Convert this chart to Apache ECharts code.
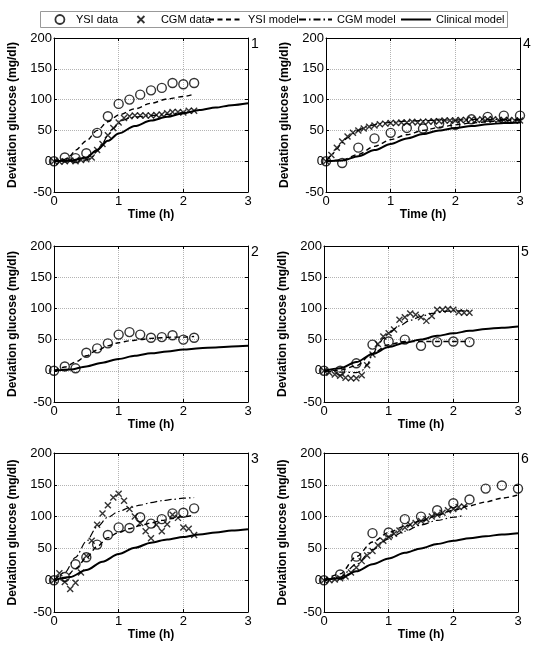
<!DOCTYPE html>
<html><head><meta charset="utf-8">
<script src="https://cdn.jsdelivr.net/npm/echarts/dist/echarts.min.js"></script>
<style>html,body{margin:0;padding:0;background:#fff}#c{width:540px;height:653px}</style>
</head><body><div id="c"></div>
<script>
// ---- data (time in h, deviation glucose in mg/dl) ----
const xTicks = [0, 1, 2, 3];
const yTicks = [-50, 0, 50, 100, 150, 200];
const panelLabels = ['1', '2', '3', '4', '5', '6'];
const seriesNames = ['YSI data', 'CGM data', 'YSI model', 'CGM model', 'Clinical model'];

const ysiData1 = [[0,0],[0.167,6],[0.333,5],[0.5,13],[0.667,46],[0.833,73],[1,93],[1.167,100],[1.333,108],[1.5,115],[1.667,119],[1.833,127],[2,125],[2.167,127]];
const cgmData1 = [[0,0],[0.083,-1],[0.167,0],[0.25,1],[0.333,0],[0.417,2],[0.5,3],[0.583,6],[0.667,18],[0.75,28],[0.833,42],[0.917,54],[1,63],[1.083,70],[1.167,73],[1.25,74],[1.333,74],[1.417,74],[1.5,74],[1.583,75],[1.667,76],[1.75,78],[1.833,80],[1.917,80],[2,79],[2.083,82],[2.167,82]];
const ysiModel1 = [[0,0],[0.167,3],[0.25,9],[0.333,18],[0.5,33],[0.667,50],[0.833,64],[1,75],[1.25,85],[1.5,94],[1.75,101],[2,105],[2.167,109]];
const cgmModel1 = [[0,0],[0.25,0],[0.5,2],[0.583,6],[0.667,16],[0.75,29],[0.833,42],[0.917,53],[1,61],[1.083,67],[1.167,70],[1.25,72],[1.5,74],[1.75,76],[2,79],[2.167,81]];
const clinModel1 = [[0,0],[0.25,1],[0.5,6],[0.667,18],[0.833,33],[1,45],[1.25,57],[1.5,66],[1.75,72],[2,78],[2.25,83],[2.5,87],[2.75,91],[3,94]];

const ysiData2 = [[0,0],[0.167,7],[0.333,4],[0.5,29],[0.667,36],[0.833,44],[1,58],[1.167,62],[1.333,58],[1.5,53],[1.667,54],[1.833,57],[2,50],[2.167,53]];
const ysiModel2 = [[0,0],[0.167,6],[0.333,14],[0.5,24],[0.667,33],[0.833,40],[1,45],[1.167,48],[1.333,50],[1.5,52],[1.667,53],[1.833,54],[2,54],[2.167,55]];
const clinModel2 = [[0,0],[0.25,2],[0.5,7],[0.75,13],[1,19],[1.25,24],[1.5,28],[1.75,31],[2,34],[2.25,36],[2.5,37.5],[2.75,39],[3,40]];

const ysiData3 = [[0,0],[0.167,5],[0.333,25],[0.5,36],[0.667,56],[0.833,71],[1,83],[1.167,82],[1.333,99],[1.5,89],[1.667,96],[1.833,105],[2,106],[2.167,113]];
const cgmData3 = [[0,0],[0.083,11],[0.167,-3],[0.25,-14],[0.333,-4],[0.417,12],[0.5,38],[0.583,62],[0.667,87],[0.75,105],[0.833,118],[0.917,130],[1,136],[1.083,125],[1.167,112],[1.25,100],[1.333,90],[1.417,77],[1.5,66],[1.583,87],[1.667,77],[1.75,88],[1.833,103],[1.917,98],[2,83],[2.083,81],[2.167,71]];
const ysiModel3 = [[0,0],[0.167,3],[0.333,18],[0.5,35],[0.667,53],[0.833,67],[1,75],[1.167,81],[1.333,86],[1.5,90],[1.667,94],[1.833,97],[2,100],[2.167,102]];
const cgmModel3 = [[0,0],[0.167,12],[0.333,36],[0.5,61],[0.667,84],[0.833,99],[1,108],[1.167,114],[1.333,118],[1.5,122],[1.667,125],[1.833,127],[2,129],[2.167,130]];
const clinModel3 = [[0,0],[0.25,5],[0.5,16],[0.75,29],[1,41],[1.25,51],[1.5,59],[1.75,64],[2,68],[2.25,72],[2.5,75],[2.75,78],[3,80]];

const ysiData4 = [[0,0],[0.25,-3],[0.5,22],[0.75,37],[1,46],[1.25,54],[1.5,53],[1.75,61],[2,59],[2.25,68],[2.5,72],[2.75,74],[3,74]];
const cgmData4 = [[0,0],[0.083,10],[0.167,22],[0.25,32],[0.333,40],[0.417,46],[0.5,50],[0.583,53],[0.667,56],[0.75,58],[0.833,60],[0.917,61],[1,62],[1.083,62],[1.167,63],[1.25,63],[1.333,64],[1.417,63],[1.5,64],[1.583,64],[1.667,65],[1.75,65],[1.833,66],[1.917,66],[2,66],[2.083,67],[2.167,67],[2.25,68],[2.333,67],[2.417,68],[2.5,68],[2.583,68],[2.667,67],[2.75,67],[2.833,67],[2.917,66],[3,66]];
const ysiModel4 = [[0,0],[0.25,2],[0.5,11],[0.75,24],[1,35],[1.25,43],[1.5,50],[1.75,55],[2,59],[2.25,62],[2.5,64],[2.75,66],[3,67]];
const cgmModel4 = [[0,0],[0.083,9],[0.167,20],[0.25,30],[0.333,38],[0.417,45],[0.5,50],[0.583,54],[0.667,57],[0.75,59],[0.833,61],[1,63],[1.25,65],[1.5,66],[2,67],[2.5,68],[3,68]];
const clinModel4 = [[0,0],[0.25,1],[0.5,8],[0.75,18],[1,28],[1.25,37],[1.5,44],[1.75,50],[2,54],[2.25,57],[2.5,60],[2.75,62],[3,63]];

const ysiData5 = [[0,0],[0.25,0],[0.5,12],[0.75,42],[1,47],[1.25,50],[1.5,40],[1.75,46],[2,47],[2.25,46]];
const cgmData5 = [[0,0],[0.083,-3],[0.167,-6],[0.25,-8],[0.333,-11],[0.417,-12],[0.5,-12],[0.583,-7],[0.667,9],[0.75,26],[0.833,43],[0.917,55],[1,60],[1.083,66],[1.167,82],[1.25,86],[1.333,92],[1.417,90],[1.5,86],[1.583,80],[1.667,88],[1.75,98],[1.833,98],[1.917,99],[2,98],[2.083,94],[2.167,93],[2.25,93]];
const ysiModel5 = [[0,0],[0.25,1],[0.5,8],[0.75,28],[1,42],[1.25,47],[1.5,47],[1.75,47],[2,47],[2.25,47]];
const cgmModel5 = [[0,0],[0.25,-2],[0.5,-3],[0.583,0],[0.667,10],[0.75,25],[0.833,40],[0.917,52],[1,61],[1.167,72],[1.333,81],[1.5,87],[1.667,92],[1.833,95],[2,96],[2.25,96]];
const clinModel5 = [[0,0],[0.25,4],[0.5,14],[0.75,27],[1,38],[1.25,45],[1.5,50],[1.75,56],[2,60],[2.25,64],[2.5,67],[2.75,69],[3,71]];

const ysiData6 = [[0,0],[0.25,9],[0.5,37],[0.75,74],[1,75],[1.25,96],[1.5,100],[1.75,110],[2,121],[2.25,127],[2.5,144],[2.75,149],[3,144]];
const cgmData6 = [[0,0],[0.083,0],[0.167,1],[0.25,3],[0.333,6],[0.417,12],[0.5,20],[0.583,30],[0.667,39],[0.75,46],[0.833,55],[0.917,62],[1,68],[1.083,73],[1.167,78],[1.25,83],[1.333,87],[1.417,90],[1.5,93],[1.583,96],[1.667,100],[1.75,103],[1.833,106],[1.917,110],[2,112],[2.083,115],[2.167,116]];
const ysiModel6 = [[0,0],[0.25,10],[0.5,37],[0.75,60],[1,75],[1.25,85],[1.5,93],[1.75,102],[2,110],[2.25,117],[2.5,123],[2.75,129],[3,134]];
const cgmModel6 = [[0,0],[0.25,5],[0.5,25],[0.75,48],[1,65],[1.25,77],[1.5,87],[1.75,94],[2,99],[2.167,102]];
const clinModel6 = [[0,0],[0.25,3],[0.5,14],[0.75,25],[1,34],[1.25,43],[1.5,50],[1.75,57],[2,62],[2.25,66],[2.5,69],[2.75,72],[3,74]];

// ---- layout ----
const FONT = 'Arial, "Liberation Sans", Helvetica, sans-serif';
const panels = [
  {g:{left:54, top:38, width:194, height:154}, ysi:ysiData1, cgm:cgmData1, ysiM:ysiModel1, cgmM:cgmModel1, clin:clinModel1},
  {g:{left:54, top:246, width:194, height:156}, ysi:ysiData2, cgm:null, ysiM:ysiModel2, cgmM:null, clin:clinModel2},
  {g:{left:54, top:453, width:194, height:159}, ysi:ysiData3, cgm:cgmData3, ysiM:ysiModel3, cgmM:cgmModel3, clin:clinModel3},
  {g:{left:326, top:38, width:194, height:154}, ysi:ysiData4, cgm:cgmData4, ysiM:ysiModel4, cgmM:cgmModel4, clin:clinModel4},
  {g:{left:324, top:246, width:194, height:156}, ysi:ysiData5, cgm:cgmData5, ysiM:ysiModel5, cgmM:cgmModel5, clin:clinModel5},
  {g:{left:324, top:453, width:194, height:159}, ysi:ysiData6, cgm:cgmData6, ysiM:ysiModel6, cgmM:cgmModel6, clin:clinModel6}
];
const CROSS = 'path://M0,0L10,10M10,0L0,10';
const DASH = [5, 3.5];
const DASHDOT = [7, 3, 1.5, 3];

const grid = [], xAxis = [], yAxis = [], series = [], graphic = [];
const xMin = xTicks[0], xMax = xTicks[xTicks.length-1], xInt = xTicks[1]-xTicks[0];
const yMin = yTicks[0], yMax = yTicks[yTicks.length-1], yInt = yTicks[1]-yTicks[0];
const axLine = {show:true, onZero:false, lineStyle:{color:'#000', width:1}};
const tick = {show:true, inside:true, length:3, lineStyle:{color:'#000', width:1}};
const split = {show:true, lineStyle:{color:'#b4b4b4', type:'dotted', width:1}};

panels.forEach((p, i) => {
  grid.push(Object.assign({containLabel:false}, p.g));
  xAxis.push({gridIndex:i, type:'value', min:xMin, max:xMax, interval:xInt, position:'bottom',
    axisLine:axLine, axisTick:tick, splitLine:split,
    axisLabel:{color:'#000', fontSize:13, fontFamily:FONT, margin:3},
    name:'Time (h)', nameLocation:'middle', nameGap:15,
    nameTextStyle:{color:'#000', fontSize:12, fontWeight:'bold', fontFamily:FONT}});
  yAxis.push({gridIndex:i, type:'value', min:yMin, max:yMax, interval:yInt, position:'left',
    axisLine:axLine, axisTick:tick, splitLine:split,
    axisLabel:{color:'#000', fontSize:13, fontFamily:FONT, margin:2},
    name:'Deviation glucose (mg/dl)', nameLocation:'middle', nameGap:35,
    nameTextStyle:{color:'#000', fontSize:12, fontWeight:'bold', fontFamily:FONT}});
});
panels.forEach((p, i) => {
  xAxis.push({gridIndex:i, type:'value', min:xMin, max:xMax, interval:xInt, position:'top',
    axisLine:axLine, axisTick:tick, splitLine:{show:false}, axisLabel:{show:false}});
  yAxis.push({gridIndex:i, type:'value', min:yMin, max:yMax, interval:yInt, position:'right',
    axisLine:axLine, axisTick:tick, splitLine:{show:false}, axisLabel:{show:false}});
  const right = p.g.left + p.g.width;
  graphic.push({type:'text', x:right + 3, y:p.g.top - 1,
    style:{text:panelLabels[i], fontSize:14, fontFamily:FONT, fill:'#000', verticalAlign:'top'}});
});

panels.forEach((p, i) => {
  const base = {xAxisIndex:i, yAxisIndex:i, silent:true, animation:false};
  const lineBase = {type:'line', smooth:0.3, smoothMonotone:'x', symbol:'none', showSymbol:false, z:3};
  series.push(Object.assign({name:seriesNames[4], data:p.clin,
    lineStyle:{color:'#000', width:2, type:'solid'}, itemStyle:{color:'#000'}}, lineBase, base));
  series.push(Object.assign({name:seriesNames[2], data:p.ysiM,
    lineStyle:{color:'#000', width:1.4, type:DASH}, itemStyle:{color:'#000'}}, lineBase, base));
  if (p.cgmM) series.push(Object.assign({name:seriesNames[3], data:p.cgmM,
    lineStyle:{color:'#000', width:1.2, type:DASHDOT}, itemStyle:{color:'#000'}}, lineBase, base));
  series.push(Object.assign({type:'scatter', name:seriesNames[0], data:p.ysi, symbol:'circle', symbolSize:9, clip:false,
    itemStyle:{color:'rgba(0,0,0,0)', borderColor:'#000', borderWidth:1.4}, z:4}, base));
  if (p.cgm) series.push(Object.assign({type:'scatter', name:seriesNames[1], data:p.cgm, symbol:CROSS, symbolSize:6, clip:false,
    itemStyle:{color:'rgba(0,0,0,0)', borderColor:'#000', borderWidth:1.4}, z:4}, base));
});

// legend box
graphic.unshift({type:'rect', shape:{x:40.5, y:11.5, width:467, height:16}, style:{fill:'#fff', stroke:'#999', lineWidth:1}, z:-1});

const legTop = 14;
const legText = (pad) => ({color:'#000', fontSize:11, fontFamily:FONT, padding:[0,0,0,pad]});
const legCommon = {top:legTop, padding:0, selectedMode:false};
const lineLeg = {itemStyle:{opacity:0, color:'rgba(0,0,0,0)', borderWidth:0}};
const legend = [
  Object.assign({data:[seriesNames[0]], left:54.5, itemWidth:9, itemHeight:9, textStyle:legText(6.5),
    itemStyle:{borderWidth:1.8}}, legCommon),
  Object.assign({data:[seriesNames[1]], left:136.5, itemWidth:7, itemHeight:7, textStyle:legText(11.5),
    itemStyle:{borderWidth:1.8}}, legCommon),
  Object.assign({data:[seriesNames[2]], left:208, itemWidth:34, itemHeight:9, textStyle:legText(0)}, lineLeg, legCommon),
  Object.assign({data:[seriesNames[3]], left:298, itemWidth:33, itemHeight:9, textStyle:legText(0)}, lineLeg, legCommon),
  Object.assign({data:[seriesNames[4]], left:400, itemWidth:30, itemHeight:9, textStyle:legText(0)}, lineLeg, legCommon)
];

const chart = echarts.init(document.getElementById('c'), null, {renderer:'canvas'});
chart.setOption({animation:false, backgroundColor:'#fff', grid, xAxis, yAxis, series, legend, graphic});
</script></body></html>
